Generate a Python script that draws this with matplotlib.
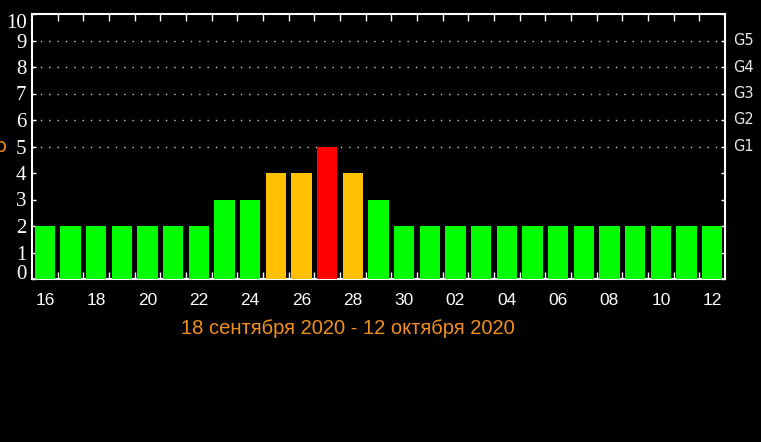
import numpy as np
import matplotlib.pyplot as plt
from matplotlib.ticker import FixedLocator
from matplotlib.transforms import blended_transform_factory

# Kp index per day, 16 Sep - 12 Oct 2020
days = ["16", "17", "18", "19", "20", "21", "22", "23", "24", "25", "26", "27", "28", "29", "30",
        "01", "02", "03", "04", "05", "06", "07", "08", "09", "10", "11", "12"]
kp = [2, 2, 2, 2, 2, 2, 2, 3, 3, 4, 4, 5, 4, 3, 2,
      2, 2, 2, 2, 2, 2, 2, 2, 2, 2, 2, 2]
storm_labels = ["G1", "G2", "G3", "G4", "G5"]
storm_levels = [5, 6, 7, 8, 9]
caption = "18 сентября 2020 - 12 октября 2020"


def bar_color(v):
    if v >= 5:
        return "#ff0000"
    if v == 4:
        return "#ffc000"
    return "#00ff00"


fig = plt.figure(figsize=(7.61, 4.42), dpi=100, facecolor="black")
ax = fig.add_axes([32 / 761, 1 - 279 / 442, (725 - 32) / 761, (279 - 14) / 442])
ax.set_facecolor("black")

x = np.arange(len(days))
ax.bar(x, kp, width=0.78, color=[bar_color(v) for v in kp], zorder=3)

ax.set_xlim(-0.5, len(days) - 0.5)
ax.set_ylim(0, 10)

# dotted grid for storm levels
for lv in storm_levels:
    ax.axhline(lv, color="#cccccc", linestyle=(0, (1, 5)), linewidth=1.0, zorder=1)

for s in ax.spines.values():
    s.set_color("white")
    s.set_linewidth(1.5)

# x ticks: labels every other day, tick marks between bars
ax.set_xticks(x[::2])
ax.set_xticklabels(days[::2], fontsize=12.5, color="white", family="Liberation Sans")
ax.xaxis.set_minor_locator(FixedLocator(x[:-1] + 0.5))
ax.tick_params(axis="x", which="major", length=0, pad=10)
ax.tick_params(axis="x", which="minor", direction="in", length=5, width=1,
               color="white", top=True, bottom=True)

ax.set_yticks(range(0, 11))
ax.set_yticklabels([str(i) for i in range(0, 11)], fontsize=15, color="white",
                   family="Liberation Serif")
ax.tick_params(axis="y", which="major", direction="in", length=3, width=1,
               color="white", left=True, right=True, pad=4)
ylabels = ax.get_yticklabels()
ylabels[0].set_verticalalignment("baseline")
ylabels[-1].set_verticalalignment("top")

# storm scale on the right
tr = blended_transform_factory(ax.transAxes, ax.transData)
for lv, lab in zip(storm_levels, storm_labels):
    ax.text(1.012, lv, lab, transform=tr, color="#e8e8e8", fontsize=10.5,
            va="center", ha="left")

# cut-off axis label on far left
fig.text(7 / 761, 1 - 146 / 442, "Kp", color="#e88a1a", fontsize=14,
         ha="right", va="center")

fig.text(348 / 761, 1 - 328 / 442, caption, color="#f0901e", fontsize=14.5,
         ha="center", va="center", family="Liberation Sans")

fig.savefig("out.png", dpi=100, facecolor="black")
